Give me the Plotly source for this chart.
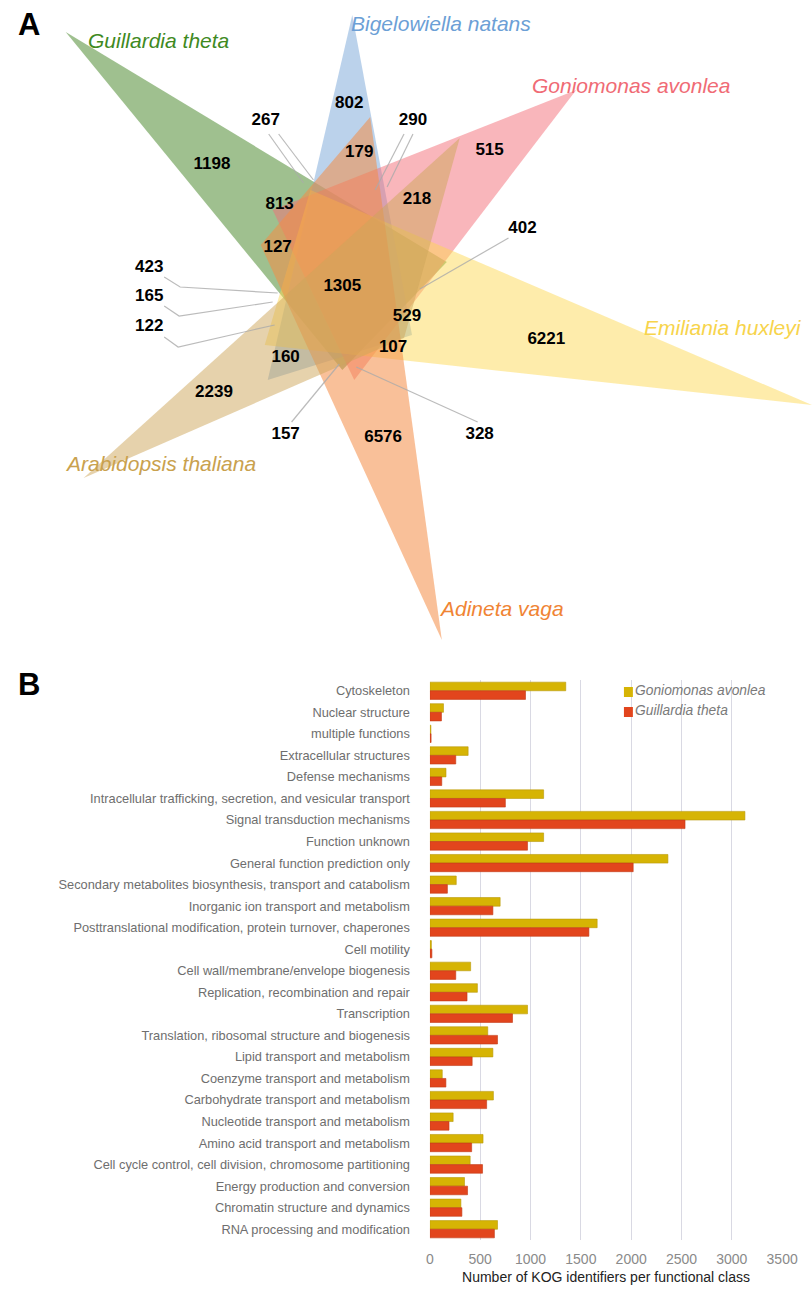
import plotly.graph_objects as go

REF_W, H = 812, 1294
W = 828                      # horizontal compensation for the capture squeeze


def px(x):                   # reference x pixel -> paper fraction
    return x / REF_W


def py(y):                   # reference y pixel -> paper fraction
    return 1 - y / H


# ---------------- Panel A data (Venn of KOG identifiers) ----------------
species = ["Guillardia theta", "Bigelowiella natans", "Goniomonas avonlea",
           "Emiliania huxleyi", "Adineta vaga", "Arabidopsis thaliana"]
species_colors = ["#3f8a1f", "#6c9fd6", "#f06b75", "#f7d44c", "#f08434", "#c9a14e"]
fill_colors = ["rgba(70,135,40,0.52)", "rgba(120,165,215,0.50)", "rgba(243,110,120,0.50)",
               "rgba(252,215,80,0.48)", "rgba(244,140,70,0.55)", "rgba(205,165,90,0.50)"]
# triangle outlines (pixel geometry of the diagram)
tri_x = [[62, 445, 340], [350, 265, 410], [575, 270, 352],
         [812, 308, 262], [440, 368, 258], [80, 458, 402]]
tri_y = [[32, 262, 370], [15, 380, 335], [90, 210, 380],
         [405, 190, 345], [640, 117, 245], [478, 138, 338]]
label_x = [82, 347, 529, 641, 435, 59]
label_y = [40, 23, 85, 327, 608, 463]

venn_counts = [1198, 267, 802, 290, 179, 515, 813, 218, 402, 127, 423, 165,
               1305, 529, 122, 6221, 107, 160, 2239, 157, 6576, 328]
count_x = [209, 263, 347, 411, 357, 488, 277, 415, 521, 275, 146, 146,
           340, 405, 146, 545, 391, 283, 211, 283, 381, 478]
count_y = [165, 121, 104, 121, 153, 151, 205, 200, 229, 248, 268, 297,
           287, 317, 327, 340, 348, 358, 393, 435, 438, 435]

leaders = [
    ([266, 301], [134, 183]), ([276, 311], [134, 180]),
    ([402, 373], [134, 190]), ([411, 385], [134, 187]),
    ([507, 418], [238, 289]),
    ([161, 177, 275], [277, 287, 293]),
    ([161, 176, 270], [306, 316, 302]),
    ([161, 175, 272], [337, 347, 325]),
    ([289, 337], [422, 364]),
    ([476, 354], [422, 367]),
]

# ---------------- Panel B data (KOG functional classes) ----------------
categories = [
    "Cytoskeleton", "Nuclear structure", "multiple functions", "Extracellular structures",
    "Defense mechanisms", "Intracellular trafficking, secretion, and vesicular transport",
    "Signal transduction mechanisms", "Function unknown", "General function prediction only",
    "Secondary metabolites biosynthesis, transport and catabolism",
    "Inorganic ion transport and metabolism",
    "Posttranslational modification, protein turnover, chaperones", "Cell motility",
    "Cell wall/membrane/envelope biogenesis", "Replication, recombination and repair",
    "Transcription", "Translation, ribosomal structure and biogenesis",
    "Lipid transport and metabolism", "Coenzyme transport and metabolism",
    "Carbohydrate transport and metabolism", "Nucleotide transport and metabolism",
    "Amino acid transport and metabolism",
    "Cell cycle control, cell division, chromosome partitioning",
    "Energy production and conversion", "Chromatin structure and dynamics",
    "RNA processing and modification",
]
goniomonas = [1350, 135, 10, 380, 160, 1130, 3130, 1130, 2365, 262, 698, 1662, 15,
              405, 472, 970, 575, 626, 123, 631, 231, 528, 400, 344, 308, 672]
guillardia = [950, 115, 12, 257, 118, 750, 2535, 970, 2020, 174, 626, 1580, 20,
              257, 369, 821, 672, 420, 159, 564, 190, 415, 523, 374, 318, 641]
x_ticks = [0, 500, 1000, 1500, 2000, 2500, 3000, 3500]
series_names = ["Goniomonas avonlea", "Guillardia theta"]
series_colors = ["#d6b404", "#e2451d"]
series_edges = ["#b8980a", "#c13a18"]

fig = go.Figure()

# Venn triangles
for i in range(len(species)):
    fig.add_trace(go.Scatter(
        x=tri_x[i] + [tri_x[i][0]], y=tri_y[i] + [tri_y[i][0]],
        mode="lines", fill="toself", fillcolor=fill_colors[i],
        line=dict(width=0, color="rgba(0,0,0,0)"),
        xaxis="x2", yaxis="y2", showlegend=False, hoverinfo="skip"))

for lx, ly in leaders:
    fig.add_trace(go.Scatter(x=lx, y=ly, mode="lines",
                             line=dict(color="rgba(170,170,170,0.8)", width=1.2),
                             xaxis="x2", yaxis="y2", showlegend=False, hoverinfo="skip"))

fig.add_trace(go.Scatter(
    x=count_x, y=count_y, mode="text", text=[str(v) for v in venn_counts],
    textfont=dict(family="Liberation Sans, Arial", size=17, color="black", weight="bold"),
    xaxis="x2", yaxis="y2", showlegend=False, hoverinfo="skip"))

for i, name in enumerate(species):
    fig.add_annotation(x=label_x[i], y=label_y[i], xref="x2", yref="y2", text=name,
                       showarrow=False, xanchor="left", yanchor="middle",
                       font=dict(family="Liberation Sans, Arial", size=21,
                                 color=species_colors[i], style="italic"))

# Bars
bar_values = [goniomonas, guillardia]
for k in range(2):
    fig.add_trace(go.Bar(y=categories, x=bar_values[k], orientation="h", name=series_names[k],
                         marker=dict(color=series_colors[k],
                                     line=dict(color=series_edges[k], width=0.6)),
                         xaxis="x", yaxis="y", showlegend=False))

# manual legend (key squares + italic labels)
for k in range(2):
    y0 = 687 + 20 * k
    fig.add_shape(type="rect", xref="paper", yref="paper",
                  x0=px(623), x1=px(632), y0=py(y0), y1=py(y0 + 10),
                  fillcolor=series_colors[k], line=dict(width=0))
    fig.add_annotation(x=px(632), y=py(y0 + 4), xref="paper", yref="paper",
                       text=series_names[k], showarrow=False, xanchor="left",
                       yanchor="middle",
                       font=dict(family="Liberation Sans, Arial", size=13.8,
                                 color="#7a7a7a", style="italic"))

fig.add_annotation(x=px(25), y=py(25), xref="paper", yref="paper", text="<b>A</b>",
                   showarrow=False, xanchor="center", yanchor="middle",
                   font=dict(family="Liberation Sans, Arial", size=31, color="black"))
fig.add_annotation(x=px(25), y=py(684), xref="paper", yref="paper", text="<b>B</b>",
                   showarrow=False, xanchor="center", yanchor="middle",
                   font=dict(family="Liberation Sans, Arial", size=31, color="black"))

top_px, bot_px = 680, 1240
fig.update_layout(
    width=W, height=H, margin=dict(l=0, r=0, t=0, b=0),
    paper_bgcolor="white", plot_bgcolor="rgba(0,0,0,0)",
    barmode="group", bargap=0.2, bargroupgap=0.0,
    xaxis2=dict(domain=[0, 1], range=[0, REF_W], visible=False, fixedrange=True),
    yaxis2=dict(domain=[py(660), 1], range=[660, 0], visible=False, fixedrange=True,
                anchor="x2"),
    xaxis=dict(domain=[px(428), px(782)], range=[0, 3500], tickvals=x_ticks,
               showgrid=True, gridcolor="#d9d9e3", gridwidth=1.2, zeroline=False,
               showline=False, ticks="", ticklabelstandoff=9,
               tickfont=dict(family="Liberation Sans, Arial", size=14, color="#8a8a8a"),
               title=dict(text="Number of KOG identifiers per functional class",
                          font=dict(family="Liberation Sans, Arial", size=14, color="#222"),
                          standoff=6),
               anchor="y"),
    yaxis=dict(domain=[py(bot_px), py(top_px)], autorange="reversed",
               type="category", showgrid=False, ticks="", showline=False,
               tickfont=dict(family="Liberation Sans Narrow, Liberation Sans, Arial",
                             size=12.8, color="#6e6e6e"),
               ticklabelstandoff=19, anchor="x"),
    showlegend=False,
)

fig.write_html(
    "out.html",
    config={"displayModeBar": False},
    post_script=("document.body.style.margin='0';"
                 "document.documentElement.style.overflow='hidden';"
                 "document.body.style.overflow='hidden';"),
)
